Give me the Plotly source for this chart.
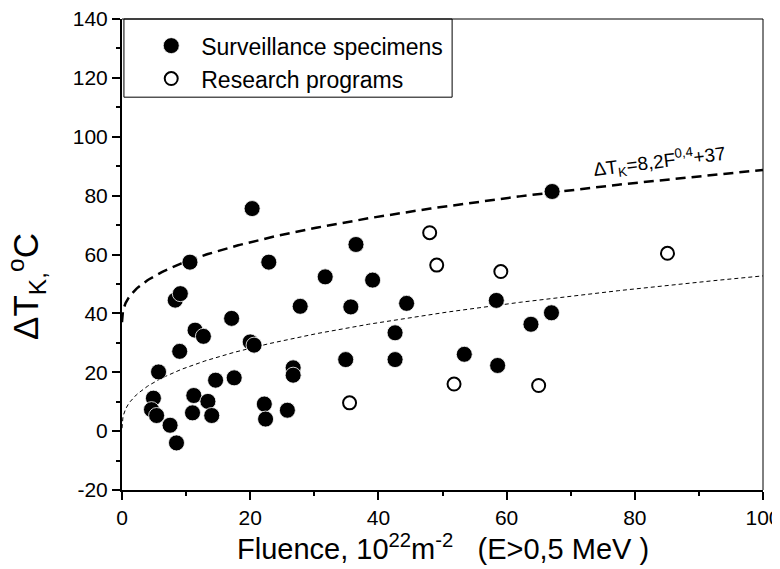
import numpy as np
import plotly.graph_objects as go

# Surveillance specimens (filled)
surv_x = [4.9, 4.6, 5.4, 5.7, 7.5, 8.5, 9.0, 8.3, 9.1, 10.6, 11.4, 11.2, 11.0, 12.7,
          13.4, 14.0, 14.6, 17.1, 17.5, 20.0, 20.6, 20.3, 22.2, 22.4, 22.9, 25.8,
          26.7, 26.7, 27.8, 31.7, 34.9, 35.7, 36.5, 39.1, 42.6, 42.6, 44.4, 53.4,
          58.4, 58.6, 63.8, 67.0, 67.1]
surv_y = [11.2, 7.3, 5.3, 20.1, 2.0, -4.0, 27.1, 44.5, 46.7, 57.4, 34.3, 12.1, 6.2, 32.2,
          10.1, 5.3, 17.3, 38.3, 18.1, 30.3, 29.2, 75.6, 9.2, 4.1, 57.4, 7.1,
          21.5, 19.0, 42.4, 52.4, 24.3, 42.2, 63.4, 51.3, 33.4, 24.3, 43.4, 26.1,
          44.4, 22.3, 36.3, 40.2, 81.4]

# Research programs (open)
res_x = [35.5, 48.0, 49.1, 51.8, 59.1, 65.0, 85.1]
res_y = [9.6, 67.4, 56.4, 16.0, 54.2, 15.5, 60.4]

# Tick labels
x_ticks = [0, 20, 40, 60, 80, 100]
x_ticktext = ["0", "20", "40", "60", "80", "100"]
y_ticks = [-20, 0, 20, 40, 60, 80, 100, 120, 140]
y_ticktext = ["-20", "0", "20", "40", "60", "80", "100", "120", "140"]

# Trend curves dT = A * F^B + C
A_COEF = 8.2
B_EXP = 0.4
C_UPPER = 37
C_LOWER = 1
fit_F = np.concatenate([np.linspace(0, 1, 41), np.linspace(1, 100, 400)])
upper_y = A_COEF * fit_F ** B_EXP + C_UPPER
lower_y = A_COEF * fit_F ** B_EXP + C_LOWER

FONT = "Liberation Sans, Arial, sans-serif"

fig = go.Figure()
fig.add_trace(go.Scatter(x=fit_F, y=upper_y, mode="lines", showlegend=False,
                         line=dict(color="black", width=2.5, dash="10px,6px"),
                         hoverinfo="skip"))
fig.add_trace(go.Scatter(x=fit_F, y=lower_y, mode="lines", showlegend=False,
                         line=dict(color="black", width=1, dash="4px,3px"),
                         hoverinfo="skip"))
fig.add_trace(go.Scatter(x=surv_x, y=surv_y, mode="markers", name="Surveillance specimens",
                         marker=dict(symbol="circle", size=16, color="black",
                                     line=dict(color="white", width=0.8))))
fig.add_trace(go.Scatter(x=res_x, y=res_y, mode="markers", name="Research programs",
                         marker=dict(symbol="circle-open", size=13, color="black",
                                     line=dict(color="black", width=2))))

fig.add_annotation(x=83.8, y=91.5, xref="x", yref="y",
                   text="ΔT<sub>K</sub>=8,2F<sup>0,4</sup>+37",
                   showarrow=False, textangle=-7,
                   font=dict(family=FONT, size=19, color="black"))

# axis titles
fig.add_annotation(x=0.5, y=-0.121, xref="paper", yref="paper",
                   text="Fluence, 10<sup>22</sup>m<sup>-2</sup>   (E>0,5 MeV )",
                   showarrow=False, xanchor="center", yanchor="middle",
                   font=dict(family=FONT, size=29, color="black"))
fig.add_annotation(x=-0.150, y=0.433, xref="paper", yref="paper",
                   text="ΔT<sub>K,</sub><sup>o</sup>C", textangle=-90,
                   showarrow=False, xanchor="center", yanchor="middle",
                   font=dict(family=FONT, size=35, color="black"))

# legend frame
fig.add_shape(type="rect", xref="paper", yref="paper", x0=0.003, x1=0.515, y0=0.834, y1=1,
              line=dict(color="black", width=1), fillcolor="rgba(0,0,0,0)", layer="above")
# top/right frame
fig.add_shape(type="line", xref="paper", yref="paper", x0=0, x1=1, y0=1, y1=1,
              line=dict(color="black", width=1))
fig.add_shape(type="line", xref="paper", yref="paper", x0=1, x1=1, y0=0, y1=1,
              line=dict(color="black", width=1))

# page body adds an 8px offset; size the figure to fit the 780x569 window
fig.update_layout(
    width=772, height=561,
    margin=dict(l=114, r=17, t=11, b=79),
    paper_bgcolor="white", plot_bgcolor="white",
    font=dict(family=FONT, color="black"),
    showlegend=True,
    legend=dict(x=0.03, y=0.989, xanchor="left", yanchor="top",
                bgcolor="rgba(0,0,0,0)", borderwidth=0, itemwidth=50,
                font=dict(family=FONT, size=23, color="black")),
    xaxis=dict(range=[0, 100], tickvals=x_ticks, ticktext=x_ticktext,
               showgrid=False, zeroline=False, automargin=False,
               ticklabeloverflow="allow",
               showline=True, linecolor="black", linewidth=2,
               ticks="outside", ticklen=8, tickwidth=1.5, tickcolor="black",
               minor=dict(dtick=10, tick0=0, ticks="outside", ticklen=4,
                          tickcolor="black", tickwidth=1.5),
               tickfont=dict(family=FONT, size=21)),
    yaxis=dict(range=[-20, 140], tickvals=y_ticks, ticktext=y_ticktext,
               showgrid=False, zeroline=False, automargin=False,
               ticklabeloverflow="allow",
               showline=True, linecolor="black", linewidth=2,
               ticks="outside", ticklen=8, tickwidth=1.5, tickcolor="black",
               minor=dict(dtick=10, tick0=0, ticks="outside", ticklen=4,
                          tickcolor="black", tickwidth=1.5),
               tickfont=dict(family=FONT, size=21)),
)

fig.write_html("out.html")
